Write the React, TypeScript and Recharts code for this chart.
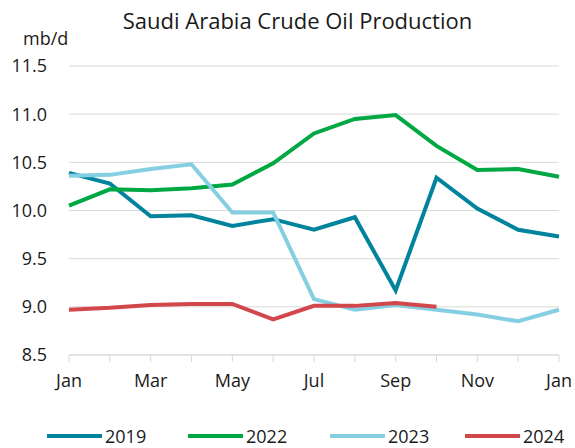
import { LineChart, Line, XAxis, YAxis, CartesianGrid } from 'recharts';

const monthIdx = [0, 1, 2, 3, 4, 5, 6, 7, 8, 9, 10, 11, 12];
const tickLabels = ['Jan', '', 'Mar', '', 'May', '', 'Jul', '', 'Sep', '', 'Nov', '', 'Jan'];
const yTicks = [8.5, 9.0, 9.5, 10.0, 10.5, 11.0, 11.5];

const y2019 = [10.39, 10.28, 9.94, 9.95, 9.84, 9.91, 9.8, 9.93, 9.17, 10.34, 10.02, 9.8, 9.73];
const y2022 = [10.05, 10.22, 10.21, 10.23, 10.27, 10.49, 10.8, 10.95, 10.99, 10.67, 10.42, 10.43, 10.35];
const y2023 = [10.36, 10.37, 10.43, 10.48, 9.98, 9.98, 9.08, 8.97, 9.02, 8.97, 8.92, 8.85, 8.97];
const y2024 = [8.97, 8.99, 9.02, 9.03, 9.03, 8.87, 9.01, 9.01, 9.04, 9.0];

const series = [
  { key: 'y2019', name: '2019', color: '#00839c' },
  { key: 'y2022', name: '2022', color: '#00a843' },
  { key: 'y2023', name: '2023', color: '#84d0e2' },
  { key: 'y2024', name: '2024', color: '#d2474b' },
];

const data = monthIdx.map((m, i) => ({
  m,
  y2019: y2019[i],
  y2022: y2022[i],
  y2023: y2023[i],
  y2024: y2024[i] ?? null,
}));

const font = '"Open Sans", "Noto Sans", sans-serif';
const legendX = [47, 188, 330, 465];

export default function App() {
  return (
    <div style={{ position: 'absolute', left: 0, top: 0, width: 575, height: 448, background: '#fff', fontFamily: font, overflow: 'hidden' }}>
      <div style={{ position: 'absolute', left: 0, width: 595, top: 5, textAlign: 'center', fontSize: 22, color: '#1a1a1a' }}>
        Saudi Arabia Crude Oil Production
      </div>
      <div style={{ position: 'absolute', left: 23, top: 26, fontSize: 18, color: '#1a1a1a' }}>mb/d</div>
      <LineChart width={575} height={448} data={data} margin={{ top: 66, right: 16, bottom: 63, left: 0 }}>
        <CartesianGrid vertical={false} stroke='#d9d9d9' strokeWidth={1} />
        <XAxis
          dataKey='m'
          type='number'
          domain={[0, 12]}
          ticks={monthIdx}
          interval={0}
          height={30}
          tickFormatter={(v: number) => tickLabels[v]}
          stroke='#d9d9d9'
          tickSize={7}
          tickMargin={12}
          tick={{ fill: '#1a1a1a', fontSize: 18, fontFamily: font }}
        />
        <YAxis
          domain={[8.5, 11.5]}
          ticks={yTicks}
          width={69}
          axisLine={false}
          tickLine={false}
          tickSize={0}
          tickMargin={22}
          tickFormatter={(v: number) => v.toFixed(1)}
          tick={{ fill: '#1a1a1a', fontSize: 18, fontFamily: font }}
        />
        {series.map((s) => (
          <Line
            key={s.key}
            type='linear'
            dataKey={s.key}
            name={s.name}
            stroke={s.color}
            strokeWidth={4}
            dot={false}
            isAnimationActive={false}
          />
        ))}
      </LineChart>
      <svg style={{ position: 'absolute', left: 0, top: 0 }} width={575} height={448}>
        {series.map((s, i) => (
          <g key={s.key}>
            <line x1={legendX[i]} x2={legendX[i] + 55} y1={436} y2={436} stroke={s.color} strokeWidth={4} />
            <text x={legendX[i] + 58} y={443} fontSize={18} fontFamily={font} fill='#1a1a1a'>
              {s.name}
            </text>
          </g>
        ))}
      </svg>
    </div>
  );
}
